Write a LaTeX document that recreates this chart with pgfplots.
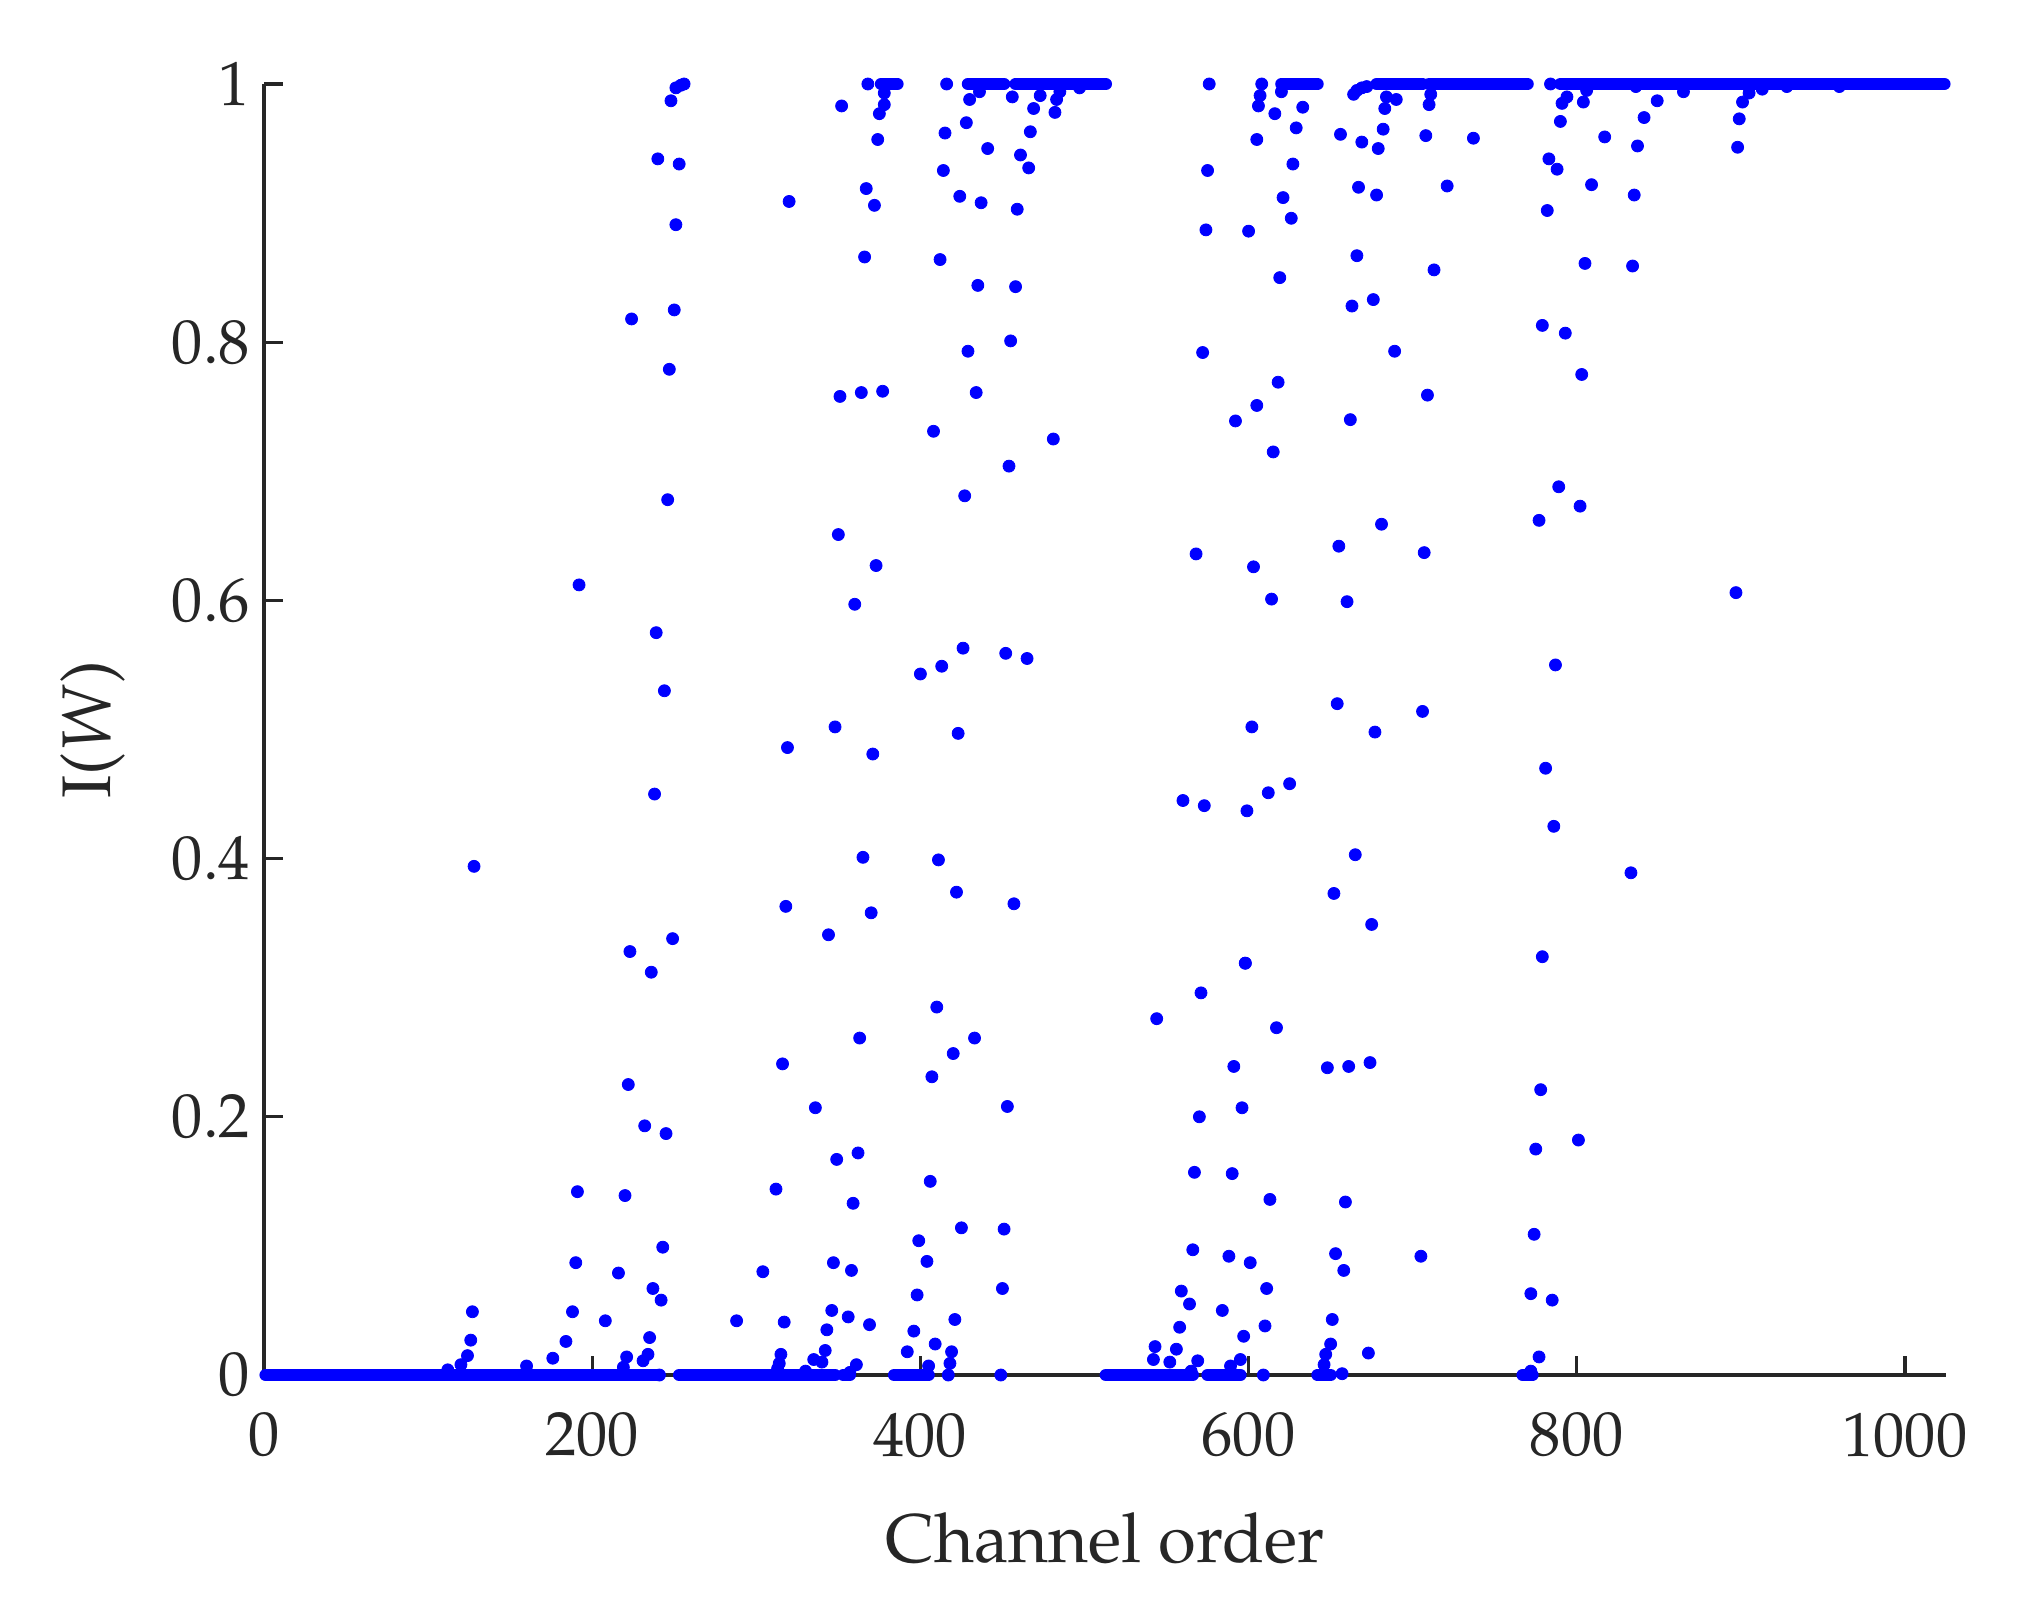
\documentclass[border=0pt]{standalone}
\usepackage[T1]{fontenc}
\usepackage{mathpazo}
\usepackage{pgfplots}
\pgfplotsset{compat=1.18}
\definecolor{axgray}{rgb}{0.15,0.15,0.15}
\begin{document}
\begin{tikzpicture}
\begin{axis}[
  scale only axis, width=420.5pt, height=322.75pt,
  xmin=0, xmax=1025, ymin=0, ymax=1,
  axis x line=bottom, axis y line=left,
  axis line style={-, line width=0.83pt, draw=axgray},
  tick align=inside, major tick length=4.75pt,
  tick style={line width=0.83pt, draw=axgray},
  xtick={0,200,400,600,800,1000}, ytick={0,0.2,0.4,0.6,0.8,1},
  /pgf/number format/1000 sep={},
  tick label style={font=\fontsize{15.6}{18}\selectfont, text=axgray},
  xticklabel style={yshift=-6pt},
  label style={font=\fontsize{17.2}{20}\selectfont, text=axgray},
  xlabel={Channel order}, ylabel={I($W$)},
  xlabel style={at={(axis description cs:0.5,-0.1449)}, anchor=base},
  ylabel style={at={(axis description cs:-0.1015,0.5)}, anchor=center},
  clip=false, unbounded coords=jump,
]
\coordinate (O) at (rel axis cs:0,0);
% runs of channels at 0 and 1
\addplot[blue, line width=3.1pt, line cap=round, forget plot] coordinates {
 (1,0)(240,0)(246,nan)(253,0)(348,0)(350,nan)(353,0)(357,0)(370,nan)(384,0)(405,0)(450,nan)
 (513,0)(566,0)(570,nan)(575,0)(595,0)(600,nan)(642,0)(650,0)(700,nan)(767,0)(773,0)
};
\addplot[blue, line width=3.1pt, line cap=round, forget plot] coordinates {
 (376,1)(386,1)(400,nan)(429,1)(451,1)(455,nan)(458,1)(513,1)(550,nan)(620,1)(642,1)(660,nan)
 (678,1)(706,1)(708,nan)(710,1)(770,1)(780,nan)(790,1)(1024,1)
};
% remaining channels
\addplot[blue, only marks, mark=*, mark size=1.5pt, mark options={solid, fill=blue, draw=blue, line width=0.2pt}] coordinates {
 (224,0.818)(240,0.942)(246,0.678)(247,0.779)(248,0.987)(250,0.825)(251,0.891)(251,0.997)(253,0.938)(254,0.999)(256,1)
 (320,0.909)(351,0.758)(352,0.983)(364,0.761)(366,0.866)(367,0.919)(368,1)(372,0.906)(374,0.957)(375,0.977)
 (377,0.762)(378,0.984)(378,0.993)(408,0.731)(412,0.864)(414,0.933)(415,0.962)(416,1)(424,0.913)(427,0.681)
 (428,0.970)(429,0.793)(430,0.988)(434,0.761)(435,0.844)(436,0.994)(437,0.908)(441,0.950)(454,0.704)(455,0.801)
 (456,0.990)(458,0.843)(459,0.903)(461,0.945)(466,0.935)(467,0.963)(469,0.981)(473,0.991)(481,0.725)(482,0.978)
 (483,0.988)(485,0.994)(497,0.997)
 (572,0.792)(574,0.887)(575,0.933)(576,1)(592,0.739)(600,0.886)(605,0.957)(605,0.751)(606,0.983)(607,0.991)
 (608,1)(615,0.715)(616,0.977)(618,0.769)(619,0.850)(620,0.994)(621,0.912)(626,0.896)(627,0.938)(629,0.966)
 (633,0.982)(656,0.961)(662,0.740)(663,0.828)(664,0.992)(666,0.867)(666,0.995)(667,0.920)(669,0.955)(669,0.997)
 (672,0.998)(676,0.833)(678,0.914)(679,0.950)(682,0.965)(683,0.981)(684,0.990)(689,0.793)(690,0.988)(708,0.960)
 (709,0.759)(710,0.984)(711,0.992)(713,0.856)(721,0.921)(737,0.958)
 (779,0.813)(782,0.902)(783,0.942)(784,1)(788,0.934)(789,0.688)(790,0.971)(791,0.985)(793,0.807)(794,0.990)
 (802,0.673)(803,0.775)(804,0.986)(805,0.861)(806,0.995)(809,0.922)(817,0.959)(834,0.859)(835,0.914)(836,0.998)
 (837,0.952)(841,0.974)(849,0.987)(865,0.994)(898,0.951)(899,0.973)(901,0.986)(905,0.993)(913,0.996)(928,0.998)
 (960,0.998)
 (128,0.394)(192,0.612)(223,0.328)(238,0.450)(239,0.575)(244,0.530)(249,0.338)
 (318,0.363)(319,0.486)(344,0.341)(348,0.502)(350,0.651)(360,0.597)(365,0.401)(370,0.358)(371,0.481)(373,0.627)
 (400,0.543)(411,0.399)(413,0.549)(422,0.374)(423,0.497)(426,0.563)(452,0.559)(457,0.365)(465,0.555)
 (560,0.445)(568,0.636)(573,0.441)(598,0.319)(599,0.437)(602,0.502)(603,0.626)(612,0.451)(614,0.601)(625,0.458)
 (652,0.373)(654,0.520)(655,0.642)(660,0.599)(665,0.403)(675,0.349)(677,0.498)(681,0.659)(706,0.514)(707,0.637)
 (777,0.662)(779,0.324)
 (781,0.470)(786,0.425)(787,0.550)(833,0.389)(897,0.606)
 (112,0.004)(120,0.008)(124,0.015)(126,0.027)(127,0.049)(160,0.007)(176,0.013)(184,0.026)(188,0.049)(190,0.087)
 (191,0.142)(208,0.042)(216,0.079)(219,0.006)(220,0.139)(221,0.014)(222,0.225)(231,0.011)(232,0.193)(234,0.016)
 (235,0.029)(236,0.312)(237,0.067)(241,0)(242,0.058)(243,0.099)(245,0.187)
 (288,0.042)(304,0.080)(312,0.144)(313,0.005)(314,0.009)(315,0.016)(316,0.241)(317,0.041)(330,0.003)(335,0.012)
 (336,0.207)(340,0.010)(342,0.019)(343,0.035)(346,0.050)(347,0.087)(349,0.167)(356,0.045)(357,0.002)(358,0.081)
 (359,0.133)(361,0.008)(362,0.172)(363,0.261)(369,0.039)(392,0.018)(396,0.034)(398,0.062)(399,0.104)(404,0.088)
 (405,0.007)(406,0.150)(407,0.231)(409,0.024)(410,0.285)(417,0)(418,0.009)(419,0.018)(420,0.249)(421,0.043)
 (425,0.114)(433,0.261)(449,0)(450,0.067)(451,0.113)(453,0.208)
 (542,0.012)(543,0.022)(544,0.276)(552,0.010)(556,0.020)(558,0.037)(559,0.065)(564,0.055)(565,0.003)(566,0.097)
 (567,0.157)(569,0.011)(570,0.200)(571,0.296)(584,0.050)(588,0.092)(589,0.007)(590,0.156)(591,0.239)(595,0.012)
 (596,0.207)(597,0.030)(598,0.319)(601,0.087)(609,0)(610,0.038)(611,0.067)(613,0.136)(617,0.269)(646,0.008)
 (647,0.016)(648,0.238)(650,0.024)(651,0.043)(653,0.094)(657,0.001)(658,0.081)(659,0.134)(661,0.239)(673,0.017)
 (674,0.242)(705,0.092)(772,0.003)(772,0.063)(774,0.109)(775,0.175)(777,0.014)(778,0.221)
 (785,0.058)(801,0.182)
};
\end{axis}
\pgfresetboundingbox
\path[use as bounding box] (O) ++(-66pt,-57.75pt) rectangle ++(505.25pt,401.5pt);
\end{tikzpicture}
\end{document}
